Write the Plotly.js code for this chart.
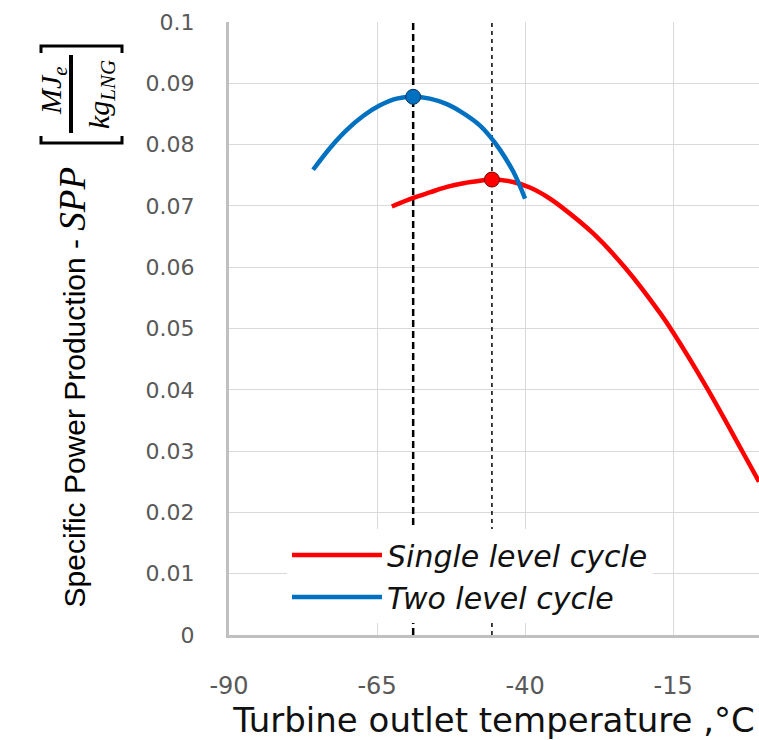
<!DOCTYPE html>
<html>
<head>
<meta charset="utf-8">
<script src="https://cdn.plot.ly/plotly-3.0.1.min.js"></script>
<style>
  html, body { margin: 0; padding: 0; background: #ffffff; }
  #chart { width: 759px; height: 740px; }
</style>
</head>
<body>
<div id="chart"></div>
<script>
// ---------------- data ----------------
const seriesNames = ['Single level cycle', 'Two level cycle'];

const singleX = [-62.5, -58.9, -56.1, -53.2, -50.4, -47.6, -45.6, -42.0, -39.2, -36.3, -34.1, -28.5, -23.1, -17.2, -15.1, -9.3, -3.4, -0.5];
const singleY = [0.0699, 0.0713, 0.0722, 0.0731, 0.0737, 0.0741, 0.0743, 0.0739, 0.0730, 0.0715, 0.0700, 0.0655, 0.0599, 0.0525, 0.0495, 0.0403, 0.0301, 0.0250];

const twoX = [-75.8, -72.9, -70.1, -67.3, -64.5, -61.7, -58.9, -56.1, -53.2, -50.4, -47.6, -45.9, -44.2, -42.0, -40.0];
const twoY = [0.0759, 0.0795, 0.0824, 0.0847, 0.0864, 0.0875, 0.0878, 0.0875, 0.0866, 0.0851, 0.0831, 0.0813, 0.0791, 0.0756, 0.0712];

const xRange = [-90, -0.5];
const yRange = [0, 0.1];
const xTickVals = [-90, -65, -40, -15];
const xTickText = ['-90', '-65', '-40', '-15'];
const yTickVals = [0, 0.01, 0.02, 0.03, 0.04, 0.05, 0.06, 0.07, 0.08, 0.09, 0.1];
const yTickText = ['0', '0.01', '0.02', '0.03', '0.04', '0.05', '0.06', '0.07', '0.08', '0.09', '0.1'];

const xTitle = 'Turbine outlet temperature ,°C';
const yTitleMain = 'Specific Power Production - ';
const yTitleSym = 'SPP';
const unitNum = 'MJ<sub>e</sub>';
const unitDen = 'kg<sub>LNG</sub>';

// ---------------- helpers ----------------
function peakOf(xs, ys) {
  const i = ys.indexOf(Math.max.apply(null, ys));
  return [xs[i], ys[i]];
}
const singlePeak = peakOf(singleX, singleY);
const twoPeak = peakOf(twoX, twoY);

const W = 759, H = 740;
const M = { l: 229, r: 0, t: 22, b: 105 };
const PW = W - M.l - M.r, PH = H - M.t - M.b;
const xp = px => (px - M.l) / PW;        // screen px -> paper x
const yp = py => (M.t + PH - py) / PH;   // screen py -> paper y

const RED = '#ff0000';
const BLUE = '#0070c0';

// ---------------- traces ----------------
const traces = [
  { // vertical dashed line at two-level optimum
    x: [twoPeak[0], twoPeak[0]], y: yRange, mode: 'lines', type: 'scatter',
    line: { color: '#000000', width: 2.5, dash: '7px,4px' },
    showlegend: false, hoverinfo: 'skip'
  },
  { // vertical dashed line at single-level optimum
    x: [singlePeak[0], singlePeak[0]], y: yRange, mode: 'lines', type: 'scatter',
    line: { color: '#000000', width: 1.5, dash: '4px,4px' },
    showlegend: false, hoverinfo: 'skip'
  },
  {
    name: seriesNames[0], x: singleX, y: singleY, mode: 'lines', type: 'scatter',
    line: { color: RED, width: 4.5, shape: 'spline', smoothing: 1 },
    legendgroup: 'a'
  },
  {
    name: seriesNames[1], x: twoX, y: twoY, mode: 'lines', type: 'scatter',
    line: { color: BLUE, width: 4.5, shape: 'spline', smoothing: 1 },
    legendgroup: 'b'
  },
  {
    x: [singlePeak[0]], y: [singlePeak[1]], mode: 'markers', type: 'scatter',
    marker: { color: RED, size: 15, line: { color: '#7a0000', width: 1 } },
    showlegend: false
  },
  {
    x: [twoPeak[0]], y: [twoPeak[1]], mode: 'markers', type: 'scatter',
    marker: { color: BLUE, size: 15, line: { color: '#12355e', width: 1 } },
    showlegend: false
  }
];

// ---------------- layout ----------------
const tickColor = '#595959';
const layout = {
  width: W, height: H,
  margin: M,
  paper_bgcolor: '#ffffff',
  plot_bgcolor: '#ffffff',
  showlegend: true,
  xaxis: {
    range: xRange, tickvals: xTickVals, ticktext: xTickText,
    showgrid: true, gridcolor: '#d9d9d9', gridwidth: 1,
    showline: true, linecolor: '#c0c0c0', linewidth: 3,
    zeroline: false, ticks: '',
    tickfont: { family: 'DejaVu Sans', size: 24, color: tickColor },
    ticklabelstandoff: 27,
    title: { text: xTitle, font: { family: 'DejaVu Sans', size: 34, color: '#111111' }, standoff: 17 },
    automargin: false, fixedrange: true
  },
  yaxis: {
    range: yRange, tickvals: yTickVals, ticktext: yTickText,
    showgrid: true, gridcolor: '#d9d9d9', gridwidth: 1,
    showline: true, linecolor: '#c0c0c0', linewidth: 3,
    zeroline: false, ticks: '',
    tickfont: { family: 'DejaVu Sans', size: 22, color: tickColor },
    ticklabelstandoff: 27,
    automargin: false, fixedrange: true
  },
  legend: {
    x: xp(287), y: yp(529), xanchor: 'left', yanchor: 'top',
    bgcolor: '#ffffff', borderwidth: 0,
    font: { family: 'DejaVu Sans', size: 30, color: '#111111', style: 'italic' },
    itemwidth: 90, tracegroupgap: 12, traceorder: 'normal'
  },
  annotations: [
    {
      text: yTitleMain + '<span style="font-family:\'Liberation Serif\';font-size:37px"><i>' + yTitleSym + '</i></span>',
      xref: 'paper', yref: 'paper', x: xp(72), y: yp(610),
      xanchor: 'center', yanchor: 'bottom', textangle: -90, showarrow: false,
      font: { family: 'Liberation Sans', size: 30, color: '#000000' }
    },
    {
      text: '<i>' + unitNum + '</i>',
      xref: 'paper', yref: 'paper', x: xp(53), y: yp(91),
      xanchor: 'center', yanchor: 'middle', textangle: -90, showarrow: false,
      font: { family: 'Liberation Serif', size: 30, color: '#000000' }
    },
    {
      text: '<i>' + unitDen + '</i>',
      xref: 'paper', yref: 'paper', x: xp(101), y: yp(95),
      xanchor: 'center', yanchor: 'middle', textangle: -90, showarrow: false,
      font: { family: 'Liberation Serif', size: 30, color: '#000000' }
    }
  ],
  shapes: [
    { // fraction bar
      type: 'line', xref: 'paper', yref: 'paper',
      x0: xp(71), x1: xp(71), y0: yp(55), y1: yp(133),
      line: { color: '#000000', width: 4 }
    },
    { // closing bracket (top)
      type: 'path', xref: 'paper', yref: 'paper',
      path: 'M' + xp(41) + ',' + yp(53) + ' L' + xp(41) + ',' + yp(46) + ' L' + xp(122) + ',' + yp(46) + ' L' + xp(122) + ',' + yp(53),
      line: { color: '#000000', width: 3 }
    },
    { // opening bracket (bottom)
      type: 'path', xref: 'paper', yref: 'paper',
      path: 'M' + xp(41) + ',' + yp(136) + ' L' + xp(41) + ',' + yp(143) + ' L' + xp(122) + ',' + yp(143) + ' L' + xp(122) + ',' + yp(136),
      line: { color: '#000000', width: 3 }
    }
  ]
};

Plotly.newPlot('chart', traces, layout, { displayModeBar: false, staticPlot: true });
</script>
</body>
</html>
